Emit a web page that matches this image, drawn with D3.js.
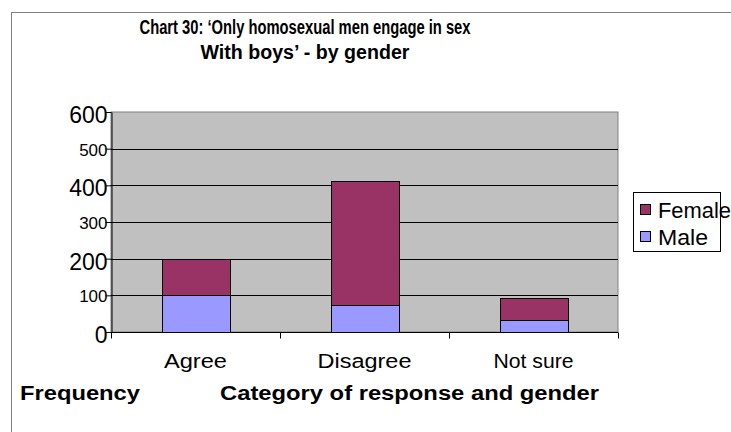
<!DOCTYPE html>
<html>
<head>
<meta charset="utf-8">
<script src="https://cdnjs.cloudflare.com/ajax/libs/d3/7.8.5/d3.min.js"></script>
<style>
html,body{margin:0;padding:0;background:#fff;}
svg{display:block;font-family:"Liberation Sans",Arial,sans-serif;}
</style>
</head>
<body>
<svg id="chart" width="731" height="432"></svg>
<script>
const categories = ["Agree", "Disagree", "Not sure"];
const maleValues = [100, 75, 33];
const femaleValues = [100, 338, 59];
const seriesNames = ["Male", "Female"];
const yTicks = [0, 100, 200, 300, 400, 500, 600];
const bigTicks = [0, 200, 400, 600];
const titleLines = ["Chart 30:  \u2018Only homosexual men engage in sex", "With boys\u2019 - by gender"];

const colors = {Male: "#9999FF", Female: "#993366"};
const svg = d3.select("#chart");

// outer chart border
svg.append("rect").attr("x", 11.5).attr("y", 12.5).attr("width", 760).attr("height", 460)
  .attr("fill", "#fff").attr("stroke", "#808080").attr("stroke-width", 1);

const plot = {left: 111, top: 112, right: 618, bottom: 332};
const x = d3.scaleBand().domain(categories).range([plot.left, plot.right]).paddingInner(0.6).paddingOuter(0.3);
const xOuter = d3.scaleBand().domain(categories).range([plot.left, plot.right]);
const y = d3.scaleLinear().domain([0, 600]).range([plot.bottom, plot.top]);

// plot background
svg.append("rect").attr("x", plot.left).attr("y", plot.top)
  .attr("width", plot.right - plot.left).attr("height", plot.bottom - plot.top)
  .attr("fill", "#C0C0C0").attr("stroke", "#808080").attr("stroke-width", 1);

// gridlines
svg.append("g").selectAll("line").data(yTicks.filter(t => t > 0 && t < 600)).join("line")
  .attr("x1", plot.left).attr("x2", plot.right)
  .attr("y1", d => Math.round(y(d)) + 0.5).attr("y2", d => Math.round(y(d)) + 0.5)
  .attr("stroke", "#000").attr("stroke-width", 1);

// stacked bars
const data = categories.map((c, i) => ({cat: c, Male: maleValues[i], Female: femaleValues[i]}));
const stack = d3.stack().keys(seriesNames)(data);
svg.append("g").selectAll("g").data(stack).join("g")
  .attr("fill", d => colors[d.key])
  .selectAll("rect").data(d => d).join("rect")
  .attr("x", d => Math.round(x(d.data.cat)) + 0.5)
  .attr("width", Math.round(x.bandwidth()))
  .attr("y", d => Math.round(y(d[1])) + 0.5)
  .attr("height", d => Math.round(y(d[0])) - Math.round(y(d[1])))
  .attr("stroke", "#000").attr("stroke-width", 1);

// y axis
const yAxis = svg.append("g").attr("transform", `translate(${plot.left + 0.5},0)`)
  .call(d3.axisLeft(y).tickValues(yTicks).tickSize(6).tickSizeOuter(0).tickFormat(d3.format("d")));
yAxis.select(".domain").attr("stroke", "#000");
yAxis.selectAll(".tick line").attr("stroke", "#000");
yAxis.selectAll(".tick text")
  .attr("x", -4)
  .attr("dy", d => bigTicks.includes(d) ? "0.45em" : "0.38em")
  .attr("fill", "#000")
  .style("font-family", "'Liberation Sans', Arial, sans-serif")
  .style("font-size", d => bigTicks.includes(d) ? "23px" : "17px");

// x axis
const xAxis = svg.append("g").attr("transform", `translate(0,${plot.bottom + 0.5})`);
xAxis.append("line").attr("x1", plot.left).attr("x2", plot.right).attr("stroke", "#000");
const xBounds = categories.map(c => xOuter(c)).concat([plot.right]);
xAxis.selectAll("line.tk").data(xBounds).join("line").attr("class", "tk")
  .attr("x1", d => Math.round(d) + 0.5).attr("x2", d => Math.round(d) + 0.5)
  .attr("y1", 0).attr("y2", 6).attr("stroke", "#000");
const xLabelWidths = [63, 94, 80];
xAxis.selectAll("text").data(categories).join("text")
  .attr("x", d => xOuter(d) + xOuter.bandwidth() / 2)
  .attr("y", 35)
  .attr("text-anchor", "middle")
  .attr("textLength", (d, i) => xLabelWidths[i])
  .attr("lengthAdjust", "spacingAndGlyphs")
  .style("font-size", "20px")
  .text(d => d);

// title
const titleWidths = [331, 209];
svg.append("g").selectAll("text").data(titleLines).join("text")
  .attr("x", 305).attr("y", (d, i) => 34 + i * 25)
  .attr("text-anchor", "middle")
  .attr("textLength", (d, i) => titleWidths[i])
  .attr("lengthAdjust", "spacingAndGlyphs")
  .style("font-size", "20px").style("font-weight", "bold")
  .text(d => d);

// axis titles
svg.append("text").attr("x", 20).attr("y", 400)
  .attr("textLength", 120).attr("lengthAdjust", "spacingAndGlyphs")
  .style("font-size", "19.5px").style("font-weight", "bold").text("Frequency");
svg.append("text").attr("x", 220).attr("y", 400)
  .attr("textLength", 379).attr("lengthAdjust", "spacingAndGlyphs")
  .style("font-size", "19.5px").style("font-weight", "bold").text("Category of response and gender");

// legend
const legend = svg.append("g");
legend.append("rect").attr("x", 633.5).attr("y", 192.5).attr("width", 87).attr("height", 59)
  .attr("fill", "#fff").attr("stroke", "#000").attr("stroke-width", 1);
const legendItems = ["Female", "Male"];
const legendWidths = [73, 50];
const li = legend.selectAll("g.item").data(legendItems).join("g").attr("class", "item")
  .attr("transform", (d, i) => `translate(0,${i * 27})`);
li.append("rect").attr("x", 640.5).attr("y", 204.5).attr("width", 10).attr("height", 10)
  .attr("fill", d => colors[d]).attr("stroke", "#000").attr("stroke-width", 1);
li.append("text").attr("x", 658).attr("y", 218)
  .attr("textLength", (d, i) => legendWidths[i]).attr("lengthAdjust", "spacingAndGlyphs")
  .style("font-size", "22px").text(d => d);
</script>
</body>
</html>
